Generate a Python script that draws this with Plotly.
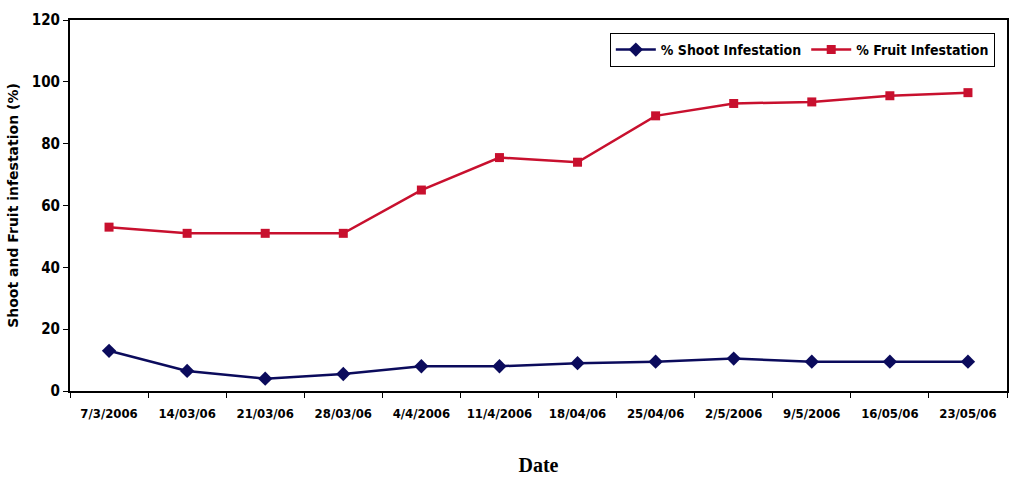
import plotly.graph_objects as go

dates = ["7/3/2006", "14/03/06", "21/03/06", "28/03/06", "4/4/2006", "11/4/2006",
         "18/04/06", "25/04/06", "2/5/2006", "9/5/2006", "16/05/06", "23/05/06"]
shoot = [13, 6.5, 4, 5.5, 8, 8, 9, 9.5, 10.5, 9.5, 9.5, 9.5]
fruit = [53, 51, 51, 51, 65, 75.5, 74, 89, 93, 93.5, 95.5, 96.5]

narrow = "DejaVu Sans Condensed, Liberation Sans Narrow, Arial Narrow, sans-serif"

fig = go.Figure()
fig.add_trace(go.Scatter(
    x=dates, y=shoot, name="% Shoot Infestation", mode="lines+markers",
    line=dict(color="#0b0b5c", width=2.5),
    marker=dict(symbol="diamond", size=11, color="#0b0b5c"),
))
fig.add_trace(go.Scatter(
    x=dates, y=fruit, name="% Fruit Infestation", mode="lines+markers",
    line=dict(color="#c8102e", width=2.5),
    marker=dict(symbol="square", size=9, color="#c8102e"),
))

fig.update_layout(
    width=1014, height=492,
    margin=dict(l=70, r=5, t=20, b=101),
    paper_bgcolor="white", plot_bgcolor="white",
    showlegend=True,
    legend=dict(
        orientation="h", x=0.987, xanchor="right", y=0.965, yanchor="top",
        bordercolor="black", borderwidth=1, bgcolor="white",
        font=dict(family=narrow, size=14, color="black", weight="bold"),
        itemwidth=40, tracegroupgap=0,
    ),
    xaxis=dict(
        type="category", range=[-0.5, 11.5], showgrid=False, showline=True,
        linecolor="black", linewidth=2,
        mirror=True, ticks="outside", tickson="boundaries", ticklen=5, tickcolor="black",
        ticklabelstandoff=9,
        tickfont=dict(family=narrow, size=13, color="black", weight="bold"),
        title=dict(text="Date", font=dict(family="Liberation Serif, Times New Roman, serif",
                                          size=20, color="black", weight="bold"), standoff=38),
    ),
    yaxis=dict(
        range=[0, 120], dtick=20, showgrid=False, showline=True, linecolor="black", linewidth=2,
        mirror=True, ticks="outside", ticklen=5, tickcolor="black",
        tickfont=dict(family=narrow, size=15, color="black", weight="bold"),
        title=dict(text="Shoot and Fruit infestation (%)",
                   font=dict(family="DejaVu Sans, sans-serif", size=14,
                             color="black", weight="bold"), standoff=10),
    ),
)

fig.write_html("out.html")
